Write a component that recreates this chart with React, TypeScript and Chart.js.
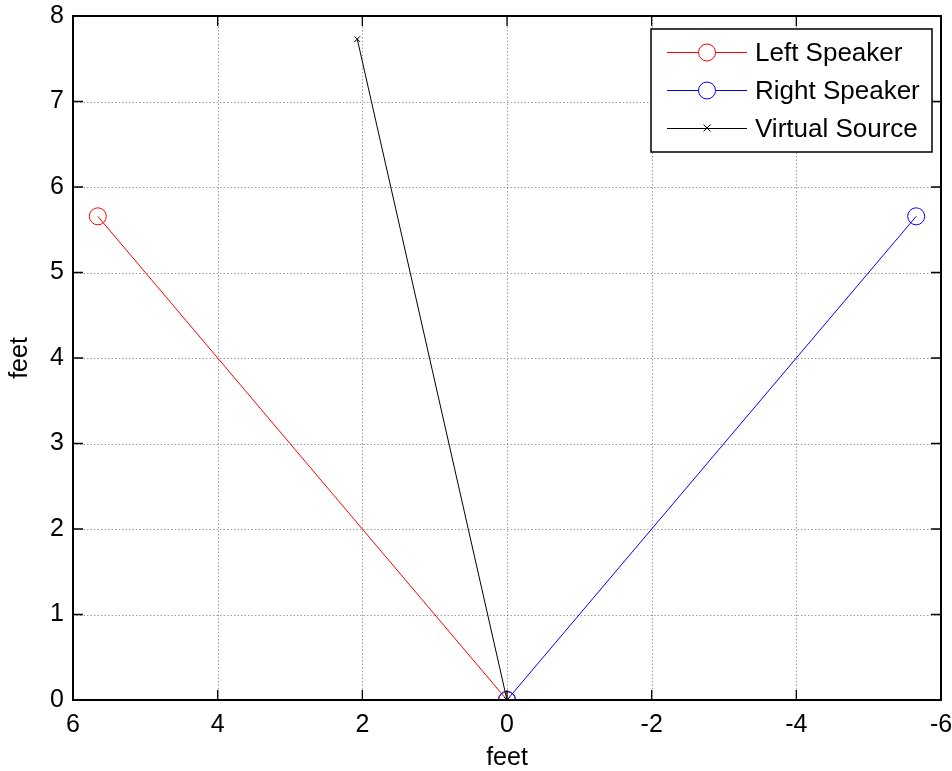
import React, { useEffect, useRef } from "react";
import { Chart, registerables } from "chart.js";

Chart.register(...registerables);

// Data (feet)
const leftX = [5.657, 0];
const leftY = [5.657, 0];
const rightX = [-5.657, 0];
const rightY = [5.657, 0];
const virtualX = [2.07, 0];
const virtualY = [7.73, 0];

const seriesLabels = ["Left Speaker", "Right Speaker", "Virtual Source"];
const xTickValues = [6, 4, 2, 0, -2, -4, -6];
const yTickValues = [0, 1, 2, 3, 4, 5, 6, 7, 8];
const axisTitle = "feet";

const FONT = "'Liberation Sans', Arial, Helvetica, sans-serif";

function toPoints(xs: number[], ys: number[]) {
  return xs.map((x, i) => ({ x, y: ys[i] }));
}

const matlabFrame = {
  id: "matlabFrame",
  beforeDatasetsDraw(chart: any) {
    const { ctx, chartArea: a, scales } = chart;
    ctx.save();
    ctx.strokeStyle = "rgba(0,0,0,0.38)";
    ctx.lineWidth = 1;
    ctx.setLineDash([1.5, 2]);
    for (const v of xTickValues) {
      const px = Math.round(scales.x.getPixelForValue(v)) + 0.5;
      ctx.beginPath();
      ctx.moveTo(px, a.top);
      ctx.lineTo(px, a.bottom);
      ctx.stroke();
    }
    for (const v of yTickValues) {
      const py = Math.round(scales.y.getPixelForValue(v)) + 0.5;
      ctx.beginPath();
      ctx.moveTo(a.left, py);
      ctx.lineTo(a.right, py);
      ctx.stroke();
    }
    ctx.restore();
  },
  afterDatasetsDraw(chart: any) {
    const { ctx, chartArea: a, scales } = chart;
    ctx.save();
    ctx.setLineDash([]);
    ctx.strokeStyle = "#000";
    ctx.lineWidth = 2;
    ctx.strokeRect(a.left, a.top, a.right - a.left, a.bottom - a.top);
    const tl = 10;
    ctx.lineWidth = 1.3;
    for (const v of xTickValues) {
      const px = scales.x.getPixelForValue(v);
      ctx.beginPath();
      ctx.moveTo(px, a.bottom);
      ctx.lineTo(px, a.bottom - tl);
      ctx.moveTo(px, a.top);
      ctx.lineTo(px, a.top + tl);
      ctx.stroke();
    }
    for (const v of yTickValues) {
      const py = scales.y.getPixelForValue(v);
      ctx.beginPath();
      ctx.moveTo(a.left, py);
      ctx.lineTo(a.left + tl, py);
      ctx.moveTo(a.right, py);
      ctx.lineTo(a.right - tl, py);
      ctx.stroke();
    }

    // Legend
    const bx = 651, by = 29, bw = 281, bh = 123;
    ctx.fillStyle = "#fff";
    ctx.fillRect(bx, by, bw, bh);
    ctx.strokeStyle = "#000";
    ctx.lineWidth = 1.5;
    ctx.strokeRect(bx, by, bw, bh);
    const rows = [52, 90, 128];
    chart.data.datasets.forEach((ds: any, i: number) => {
      const y = rows[i];
      ctx.strokeStyle = ds.borderColor;
      ctx.lineWidth = 1;
      ctx.beginPath();
      ctx.moveTo(667, y + 0.5);
      ctx.lineTo(747, y + 0.5);
      ctx.stroke();
      ctx.strokeStyle = ds.pointBorderColor;
      if (ds.pointStyle === "circle") {
        ctx.fillStyle = "#fff";
        ctx.beginPath();
        ctx.arc(707, y + 0.5, ds.pointRadius, 0, Math.PI * 2);
        ctx.fill();
        ctx.stroke();
      } else {
        const r = 3.5;
        ctx.beginPath();
        ctx.moveTo(707 - r, y - r);
        ctx.lineTo(707 + r, y + r);
        ctx.moveTo(707 - r, y + r);
        ctx.lineTo(707 + r, y - r);
        ctx.stroke();
      }
      ctx.fillStyle = "#000";
      ctx.font = `26px ${FONT}`;
      ctx.textBaseline = "middle";
      ctx.textAlign = "left";
      ctx.fillText(ds.label, 755, y + 2);
    });
    ctx.restore();
  },
};

export default function App() {
  const ref = useRef<HTMLCanvasElement | null>(null);
  useEffect(() => {
    if (!ref.current) return;
    const chart = new Chart(ref.current, {
      type: "scatter",
      data: {
        datasets: [
          {
            label: seriesLabels[0],
            data: toPoints(leftX, leftY),
            showLine: true,
            borderColor: "#ff0000",
            borderWidth: 1,
            pointStyle: "circle",
            pointRadius: 8.5,
            pointBorderColor: "#ff0000",
            pointBackgroundColor: "rgba(0,0,0,0)",
            pointBorderWidth: 1,
            order: 2,
          },
          {
            label: seriesLabels[1],
            data: toPoints(rightX, rightY),
            showLine: true,
            borderColor: "#0000ff",
            borderWidth: 1,
            pointStyle: "circle",
            pointRadius: 8.5,
            pointBorderColor: "#0000ff",
            pointBackgroundColor: "rgba(0,0,0,0)",
            pointBorderWidth: 1,
            order: 1,
          },
          {
            label: seriesLabels[2],
            data: toPoints(virtualX, virtualY),
            showLine: true,
            borderColor: "#000000",
            borderWidth: 1,
            pointStyle: "crossRot",
            pointRadius: 4,
            pointBorderColor: "#000000",
            pointBackgroundColor: "rgba(0,0,0,0)",
            pointBorderWidth: 1,
            order: 0,
          },
        ],
      },
      options: {
        animation: false,
        responsive: false,
        devicePixelRatio: 1,
        layout: { padding: { left: 0, top: 16, right: 11, bottom: 0 } },
        plugins: {
          legend: { display: false },
          tooltip: { enabled: false },
        },
        scales: {
          x: {
            type: "linear",
            reverse: true,
            min: -6,
            max: 6,
            afterBuildTicks: (s: any) => {
              s.ticks = xTickValues.map((v) => ({ value: v }));
            },
            afterFit: (s: any) => {
              s.height = 71;
              s.paddingLeft = 0;
              s.paddingRight = 0;
            },
            grid: { display: false, drawTicks: false },
            border: { display: false },
            ticks: {
              color: "#000",
              font: { family: FONT, size: 25 },
              padding: 10,
              maxRotation: 0,
              callback: (v: any) => String(v),
            },
            title: {
              display: true,
              text: axisTitle,
              color: "#000",
              font: { family: FONT, size: 25 },
              padding: { top: 0, bottom: -2 },
            },
          },
          y: {
            type: "linear",
            min: 0,
            max: 8,
            afterBuildTicks: (s: any) => {
              s.ticks = yTickValues.map((v) => ({ value: v }));
            },
            afterFit: (s: any) => {
              s.width = 73;
              s.paddingTop = 0;
              s.paddingBottom = 0;
            },
            grid: { display: false, drawTicks: false },
            border: { display: false },
            ticks: {
              color: "#000",
              font: { family: FONT, size: 25 },
              padding: 9,
              callback: (v: any) => String(v),
            },
            title: {
              display: true,
              text: axisTitle,
              color: "#000",
              font: { family: FONT, size: 25 },
              padding: { top: 5, bottom: 0 },
            },
          },
        },
      },
      plugins: [matlabFrame],
    } as any);
    return () => chart.destroy();
  }, []);

  return (
    <div style={{ position: "absolute", left: 0, top: 0, width: 952, height: 771, background: "#fff" }}>
      <canvas ref={ref} width={952} height={771} style={{ width: 952, height: 771 }} />
    </div>
  );
}
